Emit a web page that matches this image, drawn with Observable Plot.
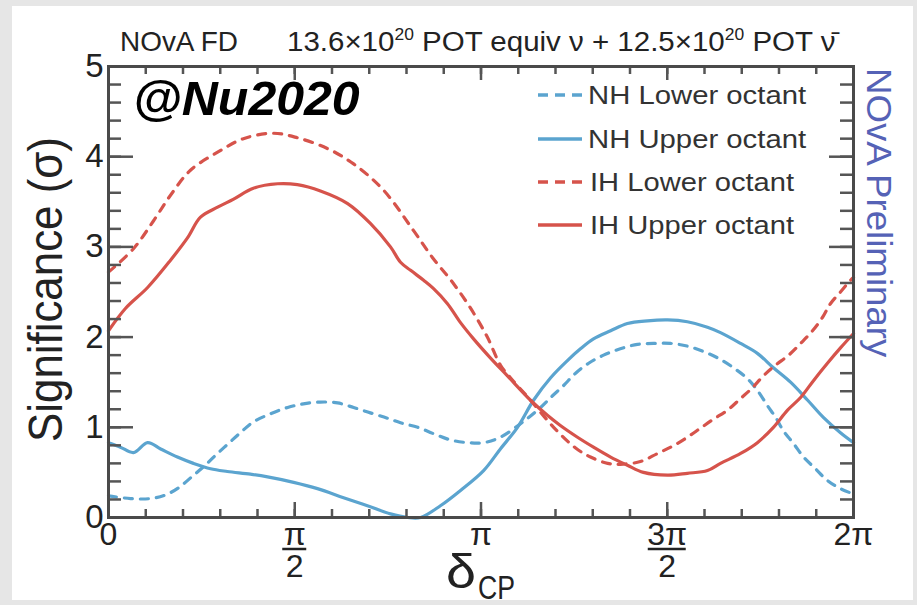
<!DOCTYPE html>
<html>
<head>
<meta charset="utf-8">
<script src="https://cdn.jsdelivr.net/npm/d3@7"></script>
<script src="https://cdn.jsdelivr.net/npm/@observablehq/plot@0.6"></script>
<style>
  html, body { margin: 0; padding: 0; width: 917px; height: 605px; overflow: hidden; background: #e6e6e6; }
  #panel { position: absolute; left: 12px; top: 6px; width: 901px; height: 594px; background: #fff; }
  #chart { position: absolute; left: 0; top: 0; }
</style>
</head>
<body>
<div id="panel"></div>
<div id="chart"></div>
<script>
// δCP in units of π, significance in σ
const seriesNames = ["NH Lower octant", "NH Upper octant", "IH Lower octant", "IH Upper octant"];
const seriesColors = ["#5ba4cf", "#5ba4cf", "#d6534b", "#d6534b"];
const seriesDashed = [true, false, true, false];

const nhLowerX = [0, 0.059, 0.113, 0.153, 0.188, 0.226, 0.260, 0.290, 0.322, 0.354, 0.389, 0.435, 0.481, 0.523, 0.569, 0.615, 0.658, 0.703, 0.749, 0.784, 0.830, 0.872, 0.918, 0.964, 1.007, 1.052, 1.119, 1.160, 1.192, 1.221, 1.254, 1.289, 1.329, 1.374, 1.420, 1.463, 1.509, 1.554, 1.597, 1.635, 1.678, 1.715, 1.742, 1.769, 1.791, 1.812, 1.839, 1.866, 1.898, 1.930, 1.965, 2.0];
const nhLowerY = [0.24, 0.21, 0.21, 0.25, 0.33, 0.46, 0.58, 0.70, 0.82, 0.94, 1.06, 1.15, 1.22, 1.26, 1.28, 1.27, 1.22, 1.16, 1.10, 1.05, 1.00, 0.93, 0.86, 0.83, 0.83, 0.89, 1.08, 1.22, 1.35, 1.46, 1.60, 1.71, 1.80, 1.87, 1.92, 1.93, 1.93, 1.90, 1.84, 1.77, 1.66, 1.54, 1.41, 1.24, 1.11, 0.96, 0.82, 0.67, 0.54, 0.41, 0.32, 0.26];

const nhUpperX = [0, 0.032, 0.067, 0.105, 0.140, 0.185, 0.228, 0.274, 0.319, 0.381, 0.427, 0.497, 0.561, 0.631, 0.695, 0.757, 0.803, 0.838, 0.891, 0.945, 1.007, 1.052, 1.098, 1.141, 1.187, 1.232, 1.267, 1.302, 1.348, 1.393, 1.447, 1.501, 1.554, 1.608, 1.643, 1.697, 1.742, 1.785, 1.831, 1.877, 1.919, 1.965, 2.0];
const nhUpperY = [0.83, 0.78, 0.72, 0.83, 0.76, 0.67, 0.60, 0.54, 0.51, 0.48, 0.45, 0.39, 0.32, 0.22, 0.13, 0.04, 0.0, 0.0, 0.13, 0.30, 0.52, 0.76, 1.00, 1.30, 1.55, 1.74, 1.87, 1.98, 2.07, 2.15, 2.18, 2.19, 2.17, 2.11, 2.05, 1.93, 1.82, 1.66, 1.50, 1.30, 1.11, 0.94, 0.83];

const ihLowerX = [0, 0.067, 0.121, 0.166, 0.220, 0.293, 0.362, 0.443, 0.507, 0.588, 0.658, 0.738, 0.819, 0.870, 0.923, 0.972, 1.017, 1.052, 1.079, 1.133, 1.195, 1.254, 1.294, 1.340, 1.374, 1.428, 1.474, 1.514, 1.554, 1.589, 1.624, 1.662, 1.697, 1.729, 1.758, 1.791, 1.826, 1.858, 1.890, 1.917, 1.938, 1.965, 1.992, 2.0];
const ihLowerY = [2.72, 2.98, 3.29, 3.57, 3.85, 4.05, 4.20, 4.26, 4.21, 4.09, 3.92, 3.63, 3.18, 2.88, 2.61, 2.32, 2.00, 1.69, 1.55, 1.30, 1.00, 0.77, 0.67, 0.60, 0.59, 0.62, 0.71, 0.79, 0.89, 0.99, 1.09, 1.19, 1.32, 1.44, 1.57, 1.69, 1.80, 1.93, 2.07, 2.22, 2.37, 2.50, 2.63, 2.66];

const ihUpperX = [0, 0.046, 0.105, 0.166, 0.212, 0.247, 0.293, 0.336, 0.389, 0.454, 0.507, 0.569, 0.642, 0.703, 0.757, 0.784, 0.811, 0.846, 0.872, 0.910, 0.945, 0.980, 1.025, 1.071, 1.133, 1.179, 1.213, 1.259, 1.302, 1.348, 1.393, 1.436, 1.501, 1.554, 1.608, 1.643, 1.697, 1.742, 1.785, 1.823, 1.858, 1.893, 1.930, 1.965, 2.0];
const ihUpperY = [2.07, 2.32, 2.55, 2.85, 3.10, 3.33, 3.44, 3.53, 3.65, 3.70, 3.69, 3.62, 3.48, 3.26, 3.00, 2.83, 2.74, 2.63, 2.54, 2.37, 2.16, 1.98, 1.77, 1.57, 1.30, 1.13, 1.02, 0.89, 0.78, 0.67, 0.58, 0.50, 0.47, 0.49, 0.52, 0.60, 0.71, 0.83, 1.00, 1.19, 1.33, 1.52, 1.71, 1.88, 2.04];

const xTickValues = [0, 0.5, 1, 1.5, 2];
const xTickLabels = ["0", "π\n2", "π", "3π\n2", "2π"];
const xFractionTicks = [0.5, 1.5];
const yTickValues = [0, 1, 2, 3, 4, 5];
const yTickLabels = ["0", "1", "2", "3", "4", "5"];
const xMinorTicks = d3.range(0, 21).map(i => i / 10);
const yMinorTicks = d3.range(0, 26).map(i => i / 5);

const xs = [nhLowerX, nhUpperX, ihLowerX, ihUpperX];
const ys = [nhLowerY, nhUpperY, ihLowerY, ihUpperY];
const rows = seriesNames.flatMap((name, i) => xs[i].map((d, j) => ({series: name, d, s: ys[i][j]})));

const W = 917, H = 605;
const margin = {top: 66, right: 64, bottom: 88, left: 108};
const fw = W - margin.left - margin.right;   // frame width
const fh = H - margin.top - margin.bottom;   // frame height
const dash = "8,8";
const tickColor = "#555";
const font = "'Liberation Sans', Arial, Helvetica, sans-serif";

const chart = Plot.plot({
  width: W, height: H,
  marginTop: margin.top, marginRight: margin.right, marginBottom: margin.bottom, marginLeft: margin.left,
  style: {fontFamily: font, background: "transparent", color: "#222", overflow: "visible"},
  x: {domain: [0, 2]},
  y: {domain: [0, 5]},
  marks: [
    ...seriesNames.map((name, i) => Plot.line(rows.filter(r => r.series === name), {
      x: "d", y: "s", curve: "catmull-rom",
      stroke: seriesColors[i], strokeWidth: 3.2,
      strokeDasharray: seriesDashed[i] ? dash : null
    })),
    // inward ticks on all four sides
    Plot.tickY(yMinorTicks, {y: d => d, insetRight: fw - 13, stroke: tickColor, strokeWidth: 2.5}),
    Plot.tickY(yTickValues, {y: d => d, insetRight: fw - 25, stroke: tickColor, strokeWidth: 2.5}),
    Plot.tickY(yMinorTicks, {y: d => d, insetLeft: fw - 13, stroke: tickColor, strokeWidth: 2.5}),
    Plot.tickY(yTickValues, {y: d => d, insetLeft: fw - 24, stroke: tickColor, strokeWidth: 2.5}),
    Plot.tickX(xMinorTicks, {x: d => d, insetTop: fh - 8, stroke: tickColor, strokeWidth: 2.5}),
    Plot.tickX(xTickValues, {x: d => d, insetTop: fh - 15, stroke: tickColor, strokeWidth: 2.5}),
    Plot.tickX(xMinorTicks, {x: d => d, insetBottom: fh - 8, stroke: tickColor, strokeWidth: 2.5}),
    Plot.tickX(xTickValues, {x: d => d, insetBottom: fh - 14, stroke: tickColor, strokeWidth: 2.5}),
    Plot.frame({stroke: "#4a4a4a", strokeWidth: 3}),
    Plot.axisY({ticks: yTickValues, tickFormat: (d, i) => yTickLabels[i], tickSize: 0, tickPadding: 5, fontSize: 33, label: null}),
    Plot.axisX({ticks: xTickValues, tickFormat: (d, i) => xTickLabels[i], tickSize: 0, tickPadding: 5, fontSize: 32, label: null})
  ]
});
document.getElementById("chart").appendChild(chart);

const svg = d3.select(chart);
const xScale = chart.scale("x");

// fraction bars under the π numerators
svg.append("g").selectAll("line").data(xFractionTicks).join("line")
  .attr("x1", d => xScale.apply(d) - (d < 1 ? 12 : 19))
  .attr("x2", d => xScale.apply(d) + (d < 1 ? 12 : 19))
  .attr("y1", 549).attr("y2", 549)
  .attr("stroke", "#222").attr("stroke-width", 2.5);

// text placed at (x, y) with a given rotation, squeezed to a given width
function fitText(x, y, rotate, width, build) {
  const g = svg.append("g").attr("transform", `translate(${x},${y}) rotate(${rotate})`);
  const inner = g.append("g");
  const t = inner.append("text").attr("x", 0).attr("y", 0)
    .attr("text-anchor", "start").style("font-family", font);
  build(t);
  const w = t.node().getBBox().width;
  inner.attr("transform", `scale(${width / w},1)`);
  return t;
}

// title line
fitText(120, 51, 0, 118, t => t.attr("font-size", 27).attr("fill", "#222").text("NOvA FD"));
fitText(287, 51, 0, 553, t => {
  t.attr("font-size", 27).attr("fill", "#222");
  t.append("tspan").text("13.6×10");
  t.append("tspan").attr("font-size", 16).attr("dy", -11).text("20");
  t.append("tspan").attr("dy", 11).text(" POT equiv ν + 12.5×10");
  t.append("tspan").attr("font-size", 16).attr("dy", -11).text("20");
  t.append("tspan").attr("dy", 11).text(" POT ν\u0304");
});

// watermark
fitText(133, 115, 0, 227, t => t.attr("font-size", 48).attr("font-weight", "bold").attr("font-style", "italic").attr("fill", "#000").text("@Nu2020"));

// axis titles
fitText(62, 442, -90, 305, t => t.attr("font-size", 48).attr("fill", "#222").text("Significance (σ)"));
fitText(446, 588, 0, 30, t => t.attr("font-size", 48).attr("fill", "#222").text("δ"));
fitText(478, 599, 0, 37, t => t.attr("font-size", 34).attr("fill", "#222").text("CP"));

// side label
fitText(867, 68, 90, 290, t => t.attr("font-size", 35).attr("fill", "#5562b6").text("NOvA Preliminary"));

// legend
const legendRows = [95, 139, 182, 225];
const legendTextX = [588, 588, 590, 590];
const legendTextW = [219, 219, 205, 205];
seriesNames.forEach((name, i) => {
  svg.append("line")
    .attr("x1", 538).attr("x2", 582).attr("y1", legendRows[i]).attr("y2", legendRows[i])
    .attr("stroke", seriesColors[i]).attr("stroke-width", 3.5)
    .attr("stroke-dasharray", seriesDashed[i] ? "10,7" : null);
  fitText(legendTextX[i], legendRows[i] + 9, 0, legendTextW[i], t => t.attr("font-size", 26).attr("fill", "#333").text(name));
});
</script>
</body>
</html>
